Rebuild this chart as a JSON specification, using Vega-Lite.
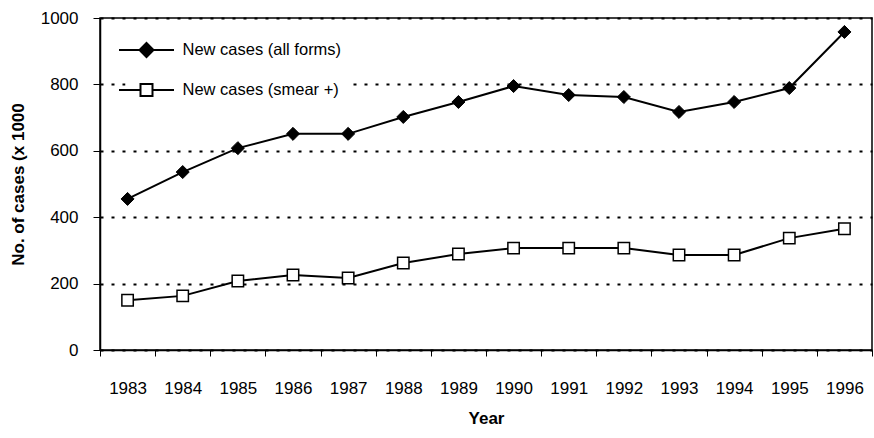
{
  "$schema": "https://vega.github.io/schema/vega-lite/v6.json",
  "width": 772,
  "height": 332,
  "autosize": {"type": "none"},
  "padding": {"left": 100, "top": 18, "right": 2, "bottom": 88},
  "background": "white",
  "config": {
    "font": "Liberation Sans",
    "view": {"stroke": "black", "strokeWidth": 1.5}
  },
  "data": {
    "values": [
      {"Year": 1983, "Series": "New cases (all forms)", "Cases": 455},
      {"Year": 1984, "Series": "New cases (all forms)", "Cases": 536},
      {"Year": 1985, "Series": "New cases (all forms)", "Cases": 608},
      {"Year": 1986, "Series": "New cases (all forms)", "Cases": 651},
      {"Year": 1987, "Series": "New cases (all forms)", "Cases": 651},
      {"Year": 1988, "Series": "New cases (all forms)", "Cases": 702},
      {"Year": 1989, "Series": "New cases (all forms)", "Cases": 747},
      {"Year": 1990, "Series": "New cases (all forms)", "Cases": 795},
      {"Year": 1991, "Series": "New cases (all forms)", "Cases": 768},
      {"Year": 1992, "Series": "New cases (all forms)", "Cases": 762},
      {"Year": 1993, "Series": "New cases (all forms)", "Cases": 717},
      {"Year": 1994, "Series": "New cases (all forms)", "Cases": 747},
      {"Year": 1995, "Series": "New cases (all forms)", "Cases": 789},
      {"Year": 1996, "Series": "New cases (all forms)", "Cases": 958},
      {"Year": 1983, "Series": "New cases (smear +)", "Cases": 150},
      {"Year": 1984, "Series": "New cases (smear +)", "Cases": 163},
      {"Year": 1985, "Series": "New cases (smear +)", "Cases": 208},
      {"Year": 1986, "Series": "New cases (smear +)", "Cases": 226},
      {"Year": 1987, "Series": "New cases (smear +)", "Cases": 217},
      {"Year": 1988, "Series": "New cases (smear +)", "Cases": 262},
      {"Year": 1989, "Series": "New cases (smear +)", "Cases": 289},
      {"Year": 1990, "Series": "New cases (smear +)", "Cases": 307},
      {"Year": 1991, "Series": "New cases (smear +)", "Cases": 307},
      {"Year": 1992, "Series": "New cases (smear +)", "Cases": 307},
      {"Year": 1993, "Series": "New cases (smear +)", "Cases": 286},
      {"Year": 1994, "Series": "New cases (smear +)", "Cases": 286},
      {"Year": 1995, "Series": "New cases (smear +)", "Cases": 337},
      {"Year": 1996, "Series": "New cases (smear +)", "Cases": 365}
    ]
  },
  "encoding": {
    "x": {
      "field": "Year",
      "type": "ordinal",
      "scale": {"type": "band", "paddingInner": 0, "paddingOuter": 0},
      "axis": {
        "title": "Year",
        "titleFontWeight": "bold",
        "titleFontSize": 17,
        "titleColor": "black",
        "titlePadding": 14,
        "labelAngle": 0,
        "labelFontSize": 17,
        "labelColor": "black",
        "labelPadding": 24,
        "tickBand": "extent",
        "tickSize": 6,
        "tickColor": "black",
        "domainColor": "black",
        "domainWidth": 1.5,
        "grid": false
      }
    },
    "y": {
      "field": "Cases",
      "type": "quantitative",
      "scale": {"domain": [0, 1000]},
      "axis": {
        "values": [0, 200, 400, 600, 800, 1000],
        "format": "d",
        "title": "No. of cases (x 1000",
        "titleFontWeight": "bold",
        "titleFontSize": 17,
        "titleColor": "black",
        "titlePadding": 13,
        "labelFontSize": 17,
        "labelColor": "black",
        "labelPadding": 15,
        "tickSize": 7,
        "tickColor": "black",
        "domainColor": "black",
        "domainWidth": 1.5,
        "grid": true,
        "gridColor": "black",
        "gridDash": [3, 8],
        "gridWidth": 2,
        "gridOpacity": 1
      }
    }
  },
  "layer": [
    {
      "mark": {"type": "line", "strokeWidth": 2},
      "encoding": {
        "stroke": {
          "field": "Series",
          "type": "nominal",
          "sort": ["New cases (all forms)", "New cases (smear +)"],
          "scale": {"range": ["black", "black"]},
          "legend": {
            "orient": "none",
            "legendX": 25.5,
            "legendY": 11,
            "title": null,
            "padding": 10,
            "fillColor": "white",
            "labelFontSize": 16.5,
            "labelColor": "black",
            "labelLimit": 0,
            "symbolSize": 400,
            "symbolStrokeWidth": 2,
            "labelOffset": 25,
            "rowPadding": 18,
            "encode": {
              "symbols": {
                "update": {
                  "shape": [
                    {"test": "datum.value === 'New cases (all forms)'", "value": "M-2.75,0H2.75M0,-0.7L0.7,0L0,0.7L-0.7,0Z"},
                    {"value": "M-2.75,0H-0.6M0.6,0H2.75M-0.6,-0.6H0.6V0.6H-0.6Z"}
                  ],
                  "fill": [
                    {"test": "datum.value === 'New cases (all forms)'", "value": "black"},
                    {"value": "white"}
                  ],
                  "fillOpacity": {"value": 1},
                  "stroke": {"value": "black"},
                  "strokeWidth": {"value": 2}
                }
              }
            }
          }
        }
      }
    },
    {
      "transform": [{"filter": "datum.Series === 'New cases (all forms)'"}],
      "mark": {"type": "point", "shape": "diamond", "filled": true, "fill": "black", "stroke": "black", "strokeWidth": 1, "size": 170, "opacity": 1}
    },
    {
      "transform": [{"filter": "datum.Series === 'New cases (smear +)'"}],
      "mark": {"type": "point", "shape": "square", "fill": "white", "stroke": "black", "strokeWidth": 1.5, "size": 130, "opacity": 1, "fillOpacity": 1}
    }
  ]
}
